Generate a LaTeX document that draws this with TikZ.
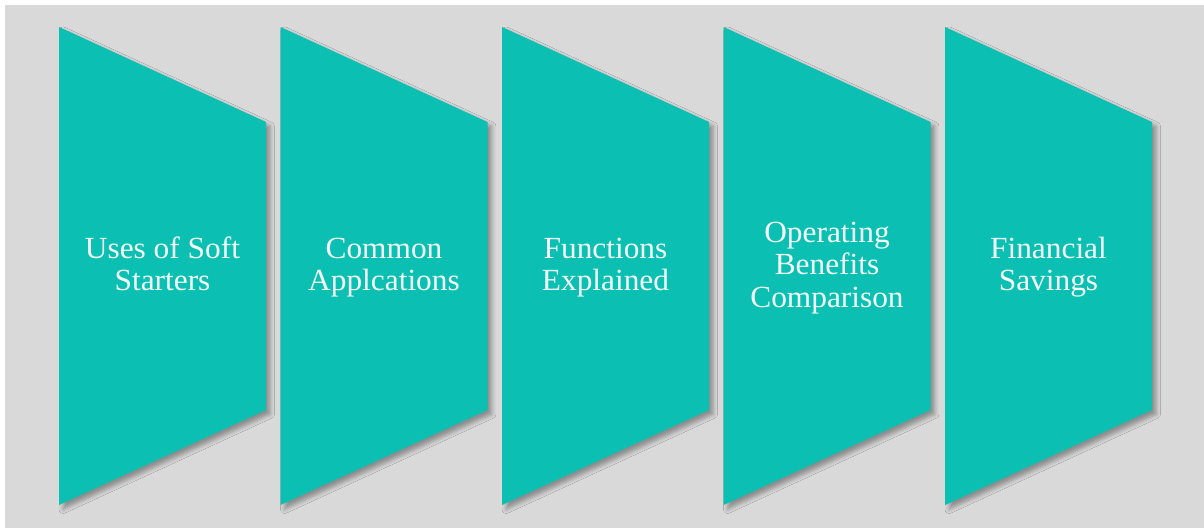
\documentclass[tikz,border=0pt]{standalone}
\usepackage{fontspec}
\setmainfont{Liberation Serif}[FakeStretch=1.02]
\usepackage{tikz}
\usetikzlibrary{shadows.blur}

\definecolor{panelgray}{HTML}{D9D9D9}
\definecolor{stageteal}{HTML}{0BBFB3}
\definecolor{stagefont}{HTML}{F2FFFB}

\begin{document}
\begin{tikzpicture}[x=0.02cm, y=-0.02cm,
  stagetext/.style={text=stagefont, align=center, inner sep=0pt, anchor=base,
    font=\fontsize{17.5}{18.4}\selectfont}]
					%%
% page and panel
\useasboundingbox (0, 0) rectangle (1204, 528);
\fill[white] (0, 0) rectangle (1204, 528);
\fill[panelgray] (5, 5) rectangle (1204, 528);

% stages, one every 221.5 px; \n = number of text lines
\foreach \i/\n/\txt in {0/2/{Uses of Soft\\Starters},
                        1/2/{Common\\Applcations},
                        2/2/{Functions\\Explained},
                        3/3/{Operating\\Benefits\\Comparison},
                        4/2/{Financial\\Savings}}
{
  \coordinate (s\i) at ({59 + 221.5*\i}, 27);
  \fill[stageteal, blur shadow={shadow xshift=2.4pt, shadow yshift=-2.4pt,
      shadow blur radius=2.4pt, shadow opacity=35}]
    (s\i) -- ++(207, 95) -- ++(0, 288) -- ++(-207, 95) -- cycle;
  % base anchor sits on the last line
  \node[stagetext] (t\i) at ({59 + 221.5*\i + 103.5}, {274.5 + 16.25*(\n-1)}) {\txt};
}
				\end{tikzpicture}
\end{document}
